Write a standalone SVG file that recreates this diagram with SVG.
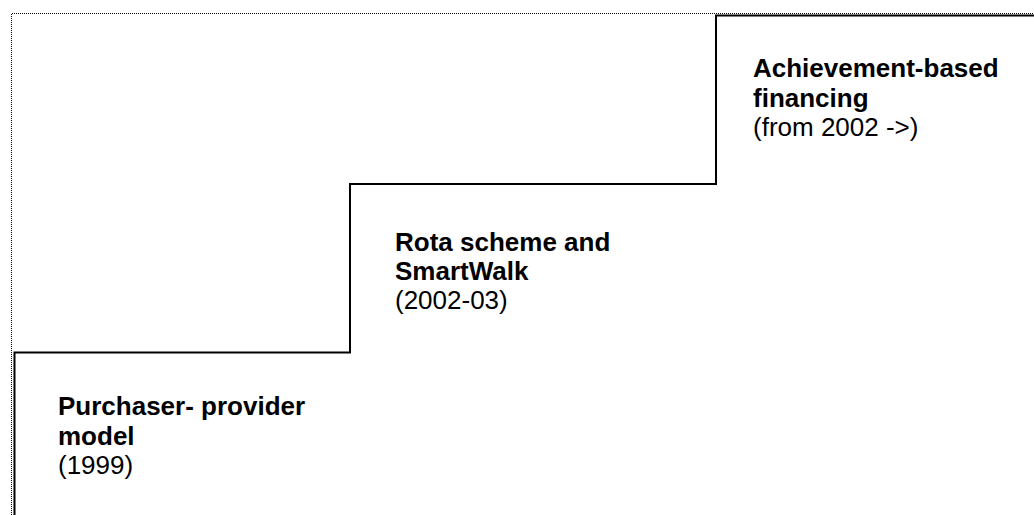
<svg xmlns="http://www.w3.org/2000/svg" width="1034" height="515" viewBox="0 0 1034 515">
  <style>
    .frame { fill: none; stroke: #000; stroke-width: 1; stroke-dasharray: 1 1; }
    .stair { fill: none; stroke: #000; stroke-width: 2; }
    text { font-family: "Liberation Sans", Arial, sans-serif; font-size: 26px; fill: #000; }
    .title { font-weight: bold; }
  </style>
  <rect width="1034" height="515" fill="#fff"/>

  <!-- dotted frame, top and left -->
  <g id="frame">
    <path class="frame" d="M 11.5 515 V 13.5 H 1034"/>
  </g>

  <!-- staircase outline -->
  <g id="connectors">
    <path class="stair" d="M 14.5 515 V 352.5 H 350 V 184 H 716 V 15.5 H 1034"/>
  </g>

  <g id="step1">
    <text x="58" y="415" class="title">Purchaser- provider</text>
    <text x="58" y="445" class="title">model</text>
    <text x="58" y="474">(1999)</text>
  </g>

  <g id="step2">
    <text x="395" y="251" class="title">Rota scheme and</text>
    <text x="395" y="280" class="title">SmartWalk</text>
    <text x="395" y="309">(2002-03)</text>
  </g>

  <g id="step3">
    <text x="753" y="77" class="title">Achievement-based</text>
    <text x="753" y="107" class="title">financing</text>
    <text x="753" y="136">(from 2002 -&gt;)</text>
  </g>
</svg>
